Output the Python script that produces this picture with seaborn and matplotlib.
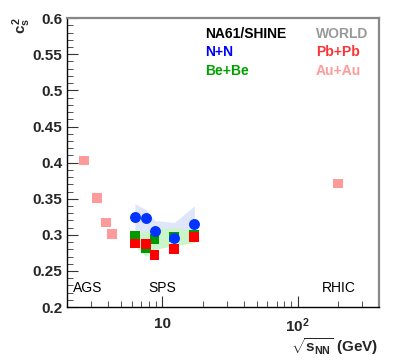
import numpy as np
import pandas as pd
import matplotlib
matplotlib.use("Agg")
import matplotlib.pyplot as plt
import seaborn as sns
from matplotlib.ticker import LogLocator, MultipleLocator, FixedFormatter, FixedLocator, NullFormatter

# NA61/SHINE points
snn_na61 = [6.3, 7.6, 8.8, 12.3, 17.3]
nn_cs2 = [0.325, 0.324, 0.306, 0.296, 0.315]
bebe_cs2 = [0.298, 0.282, 0.294, 0.297, 0.300]

# world data
snn_pbpb = [6.3, 7.6, 8.8, 12.3, 17.3]
pbpb_cs2 = [0.288, 0.287, 0.272, 0.280, 0.297]
snn_auau = [2.65, 3.32, 3.83, 4.28, 200.0]
auau_cs2 = [0.403, 0.351, 0.317, 0.301, 0.371]

# systematic bands
nn_band_hi = [0.343, 0.335, 0.320, 0.317, 0.340]
nn_band_lo = [0.305, 0.303, 0.295, 0.288, 0.290]
bebe_band_hi = [0.303, 0.305, 0.308, 0.310, 0.306]
bebe_band_lo = [0.285, 0.270, 0.280, 0.285, 0.289]

sns.set_theme(style="white")
plt.rcParams['font.family'] = ['Liberation Sans', 'DejaVu Sans']
plt.rcParams['font.weight'] = 'bold'
plt.rcParams['mathtext.fontset'] = 'custom'
plt.rcParams['mathtext.rm'] = 'Liberation Sans:bold'
plt.rcParams['mathtext.bf'] = 'Liberation Sans:bold'
plt.rcParams['mathtext.it'] = 'Liberation Sans:bold'

fig = plt.figure(figsize=(3.99, 3.63), dpi=100)
ax = fig.add_axes([0.169, 0.154, 0.781, 0.796])

ax.fill_between(snn_na61, nn_band_lo, nn_band_hi, color='#dfe6fa', lw=0, zorder=1)
ax.fill_between(snn_na61, bebe_band_lo, bebe_band_hi, color='#c9f5c9', lw=0, zorder=2)

sq = pd.DataFrame({'x': snn_na61 + snn_pbpb + snn_auau,
                   'y': bebe_cs2 + pbpb_cs2 + auau_cs2,
                   'sys': ['Be+Be'] * 5 + ['Pb+Pb'] * 5 + ['Au+Au'] * 5})
sns.scatterplot(data=sq, x='x', y='y', hue='sys', marker='s', s=50, linewidth=0,
                palette={'Be+Be': '#009a00', 'Pb+Pb': '#ff0000', 'Au+Au': '#ff9a9a'},
                legend=False, ax=ax, zorder=3)
nn = pd.DataFrame({'x': snn_na61, 'y': nn_cs2})
sns.scatterplot(data=nn, x='x', y='y', marker='o', s=62, linewidth=0,
                color='#0033ff', legend=False, ax=ax, zorder=4)

ax.set_xscale('log')
ax.set_xlim(2, 400)
ax.set_ylim(0.2, 0.6)
ax.set_xlabel('')
ax.set_ylabel('')

ax.xaxis.set_major_locator(FixedLocator([10, 100]))
ax.xaxis.set_major_formatter(FixedFormatter(['10', '$10^2$']))
ax.xaxis.set_minor_locator(LogLocator(base=10, subs=np.arange(2, 10)))
ax.xaxis.set_minor_formatter(NullFormatter())
ax.yaxis.set_minor_locator(MultipleLocator(0.01))
ax.set_yticks(np.arange(0.2, 0.601, 0.05))
ax.set_yticklabels(['0.2', '0.25', '0.3', '0.35', '0.4', '0.45', '0.5', '0.55', '0.6'],
                   fontweight='bold')

ax.tick_params(which='both', direction='in', bottom=True, left=True, top=False, right=False,
               color='#333333', labelsize=11)
ax.tick_params(which='major', length=8, width=0.8)
ax.tick_params(which='minor', length=4, width=0.6)
ax.tick_params(axis='x', pad=7)
for lab in ax.get_xticklabels():
    lab.set_fontweight('bold')

for side in ['left', 'bottom']:
    ax.spines[side].set_color('black')
    ax.spines[side].set_linewidth(1.0)
for side in ['top', 'right']:
    ax.spines[side].set_color('#888888')
    ax.spines[side].set_linewidth(1.6)

tk = dict(transform=fig.transFigure, fontsize=10, fontweight='bold', va='center')
fig.text(205 / 399, 1 - 34 / 363, 'NA61/SHINE', color='black', **tk)
fig.text(205 / 399, 1 - 52 / 363, 'N+N', color='#0000ff', **tk)
fig.text(205 / 399, 1 - 71 / 363, 'Be+Be', color='#00a000', **tk)
fig.text(316 / 399, 1 - 34 / 363, 'WORLD', color='#999999', **tk)
fig.text(316 / 399, 1 - 52 / 363, 'Pb+Pb', color='#ff3333', **tk)
fig.text(316 / 399, 1 - 71 / 363, 'Au+Au', color='#ff9a9a', **tk)

nk = dict(transform=fig.transFigure, fontsize=10, fontweight='normal', va='center', color='black')
fig.text(73 / 399, 1 - 288 / 363, 'AGS', **nk)
fig.text(148 / 399, 1 - 288 / 363, 'SPS', **nk)
fig.text(322 / 399, 1 - 288 / 363, 'RHIC', **nk)

fig.text(22 / 399, 1 - 26 / 363, '$c_s^2$', rotation=90, ha='center', va='center',
         fontsize=11)
fig.text(378 / 399, 1 - 347 / 363, '$\\sqrt{s_{NN}}$ (GeV)', ha='right', va='center',
         fontsize=11, fontweight='bold')

fig.savefig('out.png', dpi=100)
